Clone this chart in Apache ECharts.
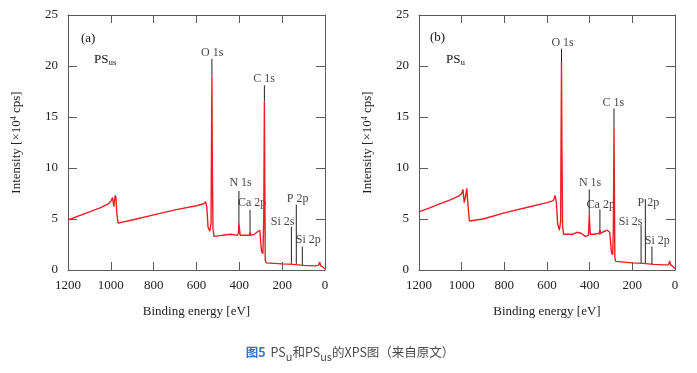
<!DOCTYPE html>
<html>
<head>
<meta charset="utf-8">
<script src="https://cdn.jsdelivr.net/npm/echarts@6/dist/echarts.min.js"></script>
<style>html,body{margin:0;padding:0;background:#fff;}#c{width:697px;height:373px;}</style>
</head>
<body>
<div id="c"></div>
<script>
// ---- Data (binding energy eV, intensity x10^4 cps) ----
const aEnergy = [1200,1150,1100,1050,1010,998,992,986,980,976,972,966,960,900,800,700,600,565,558,552,546,538,532,530,528,526,523,518,480,440,410,404,402,399,396,380,352,350,347,330,318,310,304,300,296,290,286,283,281,279,275,270,200,150,100,50,30,25,20,10,0];
const aIntensity = [4.9,5.3,5.7,6.1,6.5,6.8,7.1,6.2,7.3,7.1,5.5,4.6,4.5,4.9,5.4,5.9,6.3,6.5,6.7,6.2,4.2,3.8,4.6,12,19.0,10,4.0,3.3,3.4,3.5,3.4,3.6,4.6,4.0,3.4,3.4,3.4,3.7,3.4,3.5,3.7,3.8,3.9,2.6,1.8,1.6,5,16.5,8,1.0,0.7,0.65,0.6,0.55,0.45,0.4,0.45,0.8,0.4,0.3,0.1];

const bEnergy = [1200,1150,1100,1050,1010,1000,994,988,982,976,970,964,958,900,800,700,600,570,562,556,550,542,536,534,532,530,527,522,480,460,440,420,406,404,402,400,397,380,355,352,349,330,318,312,306,302,298,292,289,286,284,282,278,270,200,150,100,50,30,25,20,10,0];
const bIntensity = [5.7,6.1,6.5,6.9,7.3,7.5,7.9,6.6,7.2,8.0,6.3,4.8,4.7,5.0,5.6,6.1,6.6,6.8,7.3,6.6,4.5,3.9,4.8,13,20.3,12,4.3,3.5,3.5,3.7,3.6,3.3,3.4,4.2,5.4,4.6,3.5,3.5,3.6,3.9,3.6,3.8,3.9,3.9,3.7,2.8,1.7,1.5,4,14.0,8,1.2,0.85,0.8,0.7,0.65,0.55,0.5,0.5,0.9,0.5,0.35,0.15];

const peakNames = ['O 1s','C 1s','N 1s','Ca 2p','Si 2s','P 2p','Si 2p'];
// marker lines: energy, top, bottom
const aLineE = [528,283,402,350,157,134,106];
const aLineTop = [20.7,18.1,7.75,5.9,4.25,6.4,2.3];
const aLineBot = [19.0,16.5,4.6,3.6,0.6,0.6,0.5];
const aLabelE = [527,285,394,340,198,128,78];
const aLabelY = [21.3,18.7,8.55,6.55,4.7,6.95,3.0];

const bLineE = [532,286,402,352,159,139,108];
const bLineTop = [21.7,15.85,7.9,5.95,4.4,6.95,2.3];
const bLineBot = [20.3,14.0,5.4,3.45,0.65,0.65,0.55];
const bLabelE = [527,289,398,348,208,125,83];
const bLabelY = [22.3,16.4,8.5,6.4,4.75,6.55,2.9];

// ---- Chart ----
const chart = echarts.init(document.getElementById('c'));
const serif = 'Liberation Serif';
const frameColor = '#5a5a5a';
const grids = [
  {left:68, top:15, width:257, height:255},
  {left:419, top:15, width:256, height:255}
];

function xAx(gi, bottom) {
  return {
    type:'value', gridIndex:gi, position: bottom ? 'bottom' : 'top',
    min:0, max:1200, interval:200, inverse:true,
    name: bottom ? 'Binding energy [eV]' : '', nameLocation:'middle', nameGap:35,
    nameTextStyle:{fontFamily:serif, fontSize:13, color:'#222'},
    axisLine:{show:true, onZero:false, lineStyle:{color:frameColor, width:1}},
    axisTick:{show:true, inside:true, length:8, lineStyle:{color:frameColor}},
    axisLabel:{show:bottom, fontFamily:serif, fontSize:13, color:'#222', margin:9, formatter:v=>String(v)},
    splitLine:{show:false}
  };
}
function yAx(gi, left) {
  return {
    type:'value', gridIndex:gi, position: left ? 'left' : 'right',
    min:0, max:25, interval:5,
    name: left ? 'Intensity [×10{sup|4} cps]' : '', nameLocation:'middle', nameGap:44, nameRotate:90,
    nameTextStyle:{fontFamily:serif, fontSize:13, color:'#222',
      rich:{sup:{fontFamily:serif, fontSize:8, color:'#222', verticalAlign:'top', padding:[0,0,6,0]}}},
    axisLine:{show:true, onZero:false, lineStyle:{color:frameColor, width:1}},
    axisTick:{show:true, inside:true, length:9, lineStyle:{color:frameColor}},
    axisLabel:{show:left, fontFamily:serif, fontSize:13, color:'#222', margin:10},
    splitLine:{show:false}
  };
}

function zip(xs, ys){ return xs.map((x,i)=>[x, ys[i]]); }

function panelSeries(gi, E, I, lineE, lineTop, lineBot, labE, labY) {
  const xi = gi*2, yi = gi*2;
  const s = [];
  s.push({
    type:'line', xAxisIndex:xi, yAxisIndex:yi, data: zip(E, I),
    symbol:'none', lineStyle:{color:'#ee1c25', width:1.4}, z:3, silent:true, animation:false
  });
  lineE.forEach((e,i)=>{
    s.push({
      type:'line', xAxisIndex:xi, yAxisIndex:yi,
      data:[[e, lineTop[i]],[e, lineBot[i]]],
      symbol:'none', lineStyle:{color:'#222', width:1}, z:2, silent:true, animation:false
    });
  });
  s.push({
    type:'scatter', xAxisIndex:xi, yAxisIndex:yi,
    data: labE.map((e,i)=>({value:[e, labY[i]], name:peakNames[i]})),
    symbolSize:0, silent:true, animation:false,
    label:{show:true, position:'inside', formatter:p=>p.name, fontFamily:serif, fontSize:12, color:'#111'}
  });
  return s;
}

const option = {
  backgroundColor:'#fff',
  animation:false,
  grid: grids,
  xAxis: [xAx(0,true), xAx(0,false), xAx(1,true), xAx(1,false)],
  yAxis: [yAx(0,true), yAx(0,false), yAx(1,true), yAx(1,false)],
  series: [
    ...panelSeries(0, aEnergy, aIntensity, aLineE, aLineTop, aLineBot, aLabelE, aLabelY),
    ...panelSeries(1, bEnergy, bIntensity, bLineE, bLineTop, bLineBot, bLabelE, bLabelY)
  ],
  title: {
    text:'{b|图5} {t|PS}{sub|u}{t|和PS}{sub|us}{t|的XPS图（来自原文）}',
    left:345, top:338, textAlign:'center',
    textStyle:{
      fontWeight:'normal',
      rich:{
        b:{fontFamily:'Noto Sans CJK SC', fontSize:12.5, fontWeight:'bold', color:'#3d6fc6'},
        t:{fontFamily:'Noto Sans CJK SC', fontSize:12.5, fontWeight:'normal', color:'#4a4a4a'},
        sub:{fontFamily:'Noto Sans CJK SC', fontSize:11, fontWeight:'normal', color:'#4a4a4a', padding:[8,0,0,0]}
      }
    }
  },
  graphic: [
    {type:'text', left:81, top:32, style:{text:'(a)', font:'13px "Liberation Serif"', fill:'#111'}},
    {type:'text', left:94, top:53, style:{text:'{m|PS}{s|us}', fill:'#111',
      rich:{m:{fontFamily:serif, fontSize:13, fill:'#111'}, s:{fontFamily:serif, fontSize:9, fill:'#111', padding:[6,0,0,0]}}}},
    {type:'text', left:430, top:31, style:{text:'(b)', font:'13px "Liberation Serif"', fill:'#111'}},
    {type:'text', left:446, top:53, style:{text:'{m|PS}{s|u}', fill:'#111',
      rich:{m:{fontFamily:serif, fontSize:13, fill:'#111'}, s:{fontFamily:serif, fontSize:9, fill:'#111', padding:[6,0,0,0]}}}}
  ]
};
chart.setOption(option);
</script>
</body>
</html>
